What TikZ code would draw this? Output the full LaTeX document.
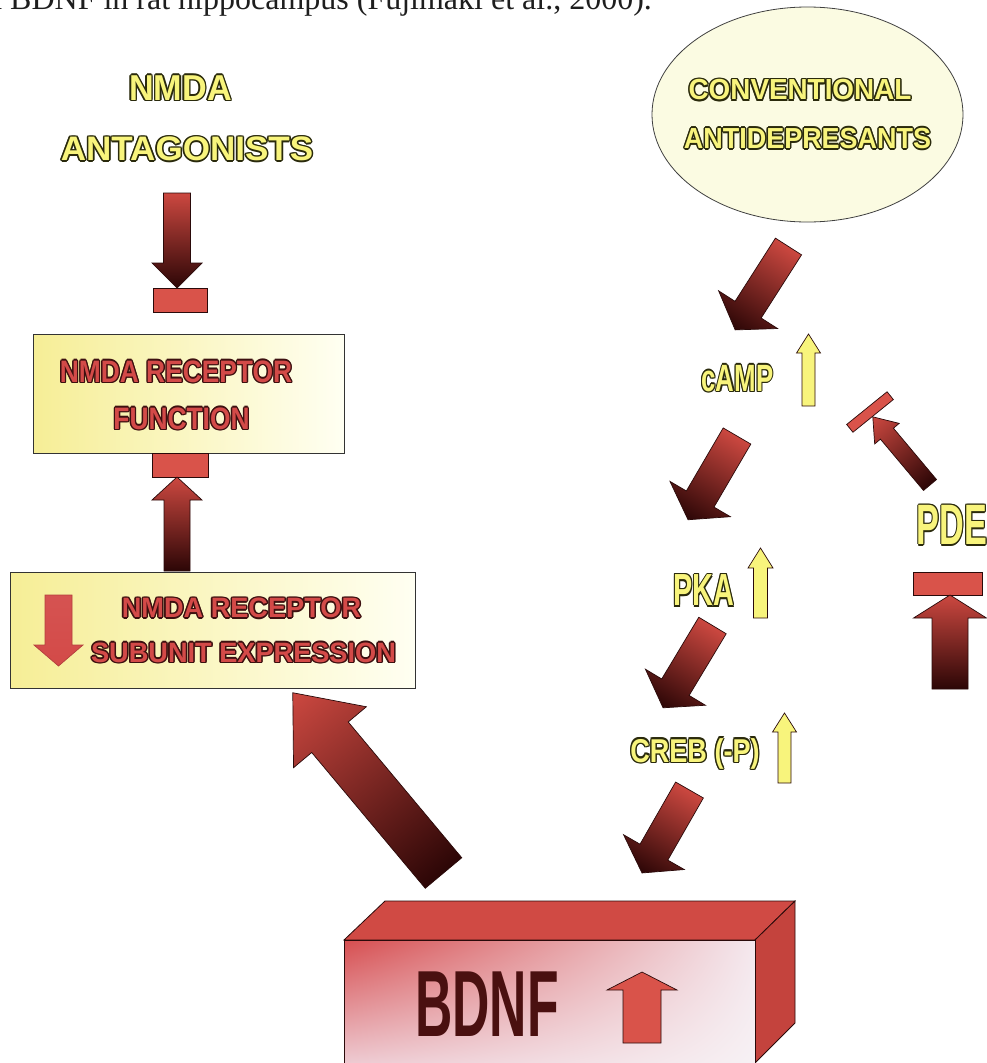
\documentclass[tikz,border=0pt]{standalone}
\usepackage{fontspec}
\usepackage{graphicx}
\setmainfont{Liberation Serif}
\newfontfamily\hb{Liberation Sans}
\usetikzlibrary{shapes.geometric,shadings}

\definecolor{yfill}{HTML}{F8F47C}
\definecolor{yline}{HTML}{2A2A0C}
\definecolor{rfill}{HTML}{D34A48}
\definecolor{rline}{HTML}{3D1010}
\definecolor{ared}{HTML}{CC4840}
\definecolor{adark}{HTML}{2C0606}
\definecolor{aline}{HTML}{2A0A0A}
\definecolor{barred}{HTML}{D9534A}
\definecolor{ellfill}{HTML}{FBFBE2}
\definecolor{boxyel}{HTML}{F6EE96}
\definecolor{boxpale}{HTML}{FFFFF2}
\definecolor{capt}{HTML}{1E1E1E}
\definecolor{bdnftop}{HTML}{D04A44}
\definecolor{bdnfside}{HTML}{C4433D}
\definecolor{bdnftext}{HTML}{4A1010}
\definecolor{fUL}{HTML}{D64E50}
\definecolor{fUR}{HTML}{F4E8EE}
\definecolor{fLL}{HTML}{F0D6DE}
\definecolor{fLR}{HTML}{F7F2F5}

\newlength\olw
\newcommand\olcopy[3]{\rlap{\hspace*{#1}\raisebox{#2}{#3}}}
\newcommand\otext[4]{%
  \setlength\olw{#1}%
  {\color{#2}%
   \olcopy{\olw}{0pt}{#4}\olcopy{-\olw}{0pt}{#4}\olcopy{0pt}{\olw}{#4}\olcopy{0pt}{-\olw}{#4}%
   \olcopy{.707\olw}{.707\olw}{#4}\olcopy{-.707\olw}{.707\olw}{#4}%
   \olcopy{.707\olw}{-.707\olw}{#4}\olcopy{-.707\olw}{-.707\olw}{#4}}%
  {\color{#3}#4}}
\newcommand\ytext[1]{\otext{1.6pt}{yline}{yfill}{#1}}
\newcommand\rtext[1]{\otext{1.6pt}{rline}{rfill}{#1}}

\def\arrowdraw{aline}
% tail x, tail y, canvas angle, length, shaft width, head width, head length, tail colour, tip colour
\newcommand\blockarrow[9]{%
  \begin{scope}[transform canvas={shift={(#1,#2)},rotate=#3}]
    \shade[left color=#8,right color=#9,draw=\arrowdraw,line width=0.7pt,line join=miter]
      (0,-#5/2) -- ({#4-#7},-#5/2) -- ({#4-#7},-#6/2) -- (#4,0)
      -- ({#4-#7},#6/2) -- ({#4-#7},#5/2) -- (0,#5/2) -- cycle;
  \end{scope}}

\tikzset{
  lbl/.style={inner sep=0pt, outer sep=0pt, anchor=center},
  bar/.style={fill=barred, draw=aline, line width=0.7pt},
  ybox/.style={draw=black!80, line width=0.8pt, shade, left color=boxyel, right color=boxpale, inner sep=0pt},
}

\begin{document}
\begin{tikzpicture}[x=1pt,y=-1pt]
\useasboundingbox (0,0) rectangle (987,1063);
\fill[white] (0,0) rectangle (987,1063);

% caption (cut at top)
\node[anchor=base west, inner sep=0pt, text=capt, font=\fontsize{32}{38}\selectfont] (caption) at (-14,9)
  {d BDNF in rat hippocampus (Fujimaki et al., 2000).};

% ---------- left column ----------
\node[lbl, font=\hb\bfseries\fontsize{36}{40}\selectfont] (nmda) at (180.5,88) {\scalebox{0.95}[1]{\ytext{NMDA}}};
\node[lbl, font=\hb\bfseries\fontsize{34}{40}\selectfont] (antag) at (187,149) {\scalebox{1.03}[1]{\ytext{ANTAGONISTS}}};

\blockarrow{177}{193}{270}{95}{27}{50}{25}{ared}{adark}
\draw[bar] (153,288) rectangle (207,312);

\node[ybox, minimum width=311pt, minimum height=119pt] (funcbox) at (188.5,393.5) {};
\node[lbl, font=\hb\bfseries\fontsize{31}{36}\selectfont] (func1) at (176,371.5) {\scalebox{0.85}[1]{\rtext{NMDA RECEPTOR}}};
\node[lbl, font=\hb\bfseries\fontsize{31}{36}\selectfont] (func2) at (181.5,418.5) {\scalebox{0.85}[1]{\rtext{FUNCTION}}};

\draw[bar] (152,453) rectangle (208,477);
\blockarrow{177}{571}{90}{94}{26}{50}{23}{adark}{ared}

\node[ybox, minimum width=405pt, minimum height=116pt] (subbox) at (212.5,630) {};
\node[lbl, font=\hb\bfseries\fontsize{28}{32}\selectfont] (sub1) at (241.5,608) {\scalebox{0.97}[1]{\rtext{NMDA RECEPTOR}}};
\node[lbl, font=\hb\bfseries\fontsize{28}{32}\selectfont] (sub2) at (243.5,652.5) {\scalebox{0.97}[1]{\rtext{SUBUNIT EXPRESSION}}};
{\def\arrowdraw{rfill!85!black}
 \blockarrow{58.5}{595}{270}{71}{27}{49}{21}{rfill!95!white}{rfill}}

% big arrow BDNF -> subunit expression
\blockarrow{443.5}{873}{129.9}{235}{47.6}{95}{58}{adark}{ared}

% ---------- right column ----------
\node[ellipse, draw=black!75, line width=0.8pt, fill=ellfill, minimum width=311pt, minimum height=215pt, inner sep=0pt] (conv) at (807.5,114.5) {};
\node[lbl, font=\hb\bfseries\fontsize{29}{34}\selectfont] (conv1) at (800,90) {\scalebox{0.96}[1]{\ytext{CONVENTIONAL}}};
\node[lbl, font=\hb\bfseries\fontsize{29}{34}\selectfont] (conv2) at (807.5,138.5) {\scalebox{0.93}[1]{\ytext{ANTIDEPRESANTS}}};

\blockarrow{788.5}{246.5}{237.4}{99}{31}{70}{24}{ared}{adark}

\node[lbl, font=\hb\bfseries\fontsize{38}{42}\selectfont] (camp) at (737.5,378.5) {\scalebox{0.68}[1]{\ytext{cAMP}}};
\blockarrow{808.5}{406}{90}{72}{13}{24}{19}{yfill}{yfill}

\blockarrow{737}{436}{239.7}{97}{32}{70}{24}{ared}{adark}

\node[lbl, font=\hb\bfseries\fontsize{45}{50}\selectfont] (pka) at (704,590.5) {\scalebox{0.64}[1]{\ytext{PKA}}};
\blockarrow{760.5}{618}{90}{70}{14}{25}{20}{yfill}{yfill}

\blockarrow{712.5}{625.5}{239}{96}{32}{70}{24}{ared}{adark}

\node[anchor=base, inner sep=0pt, font=\hb\bfseries\fontsize{33}{38}\selectfont] (creb) at (695,762) {\scalebox{0.82}[1]{\ytext{CREB (-P)}}};
\blockarrow{784.5}{783}{90}{70}{13}{24}{19}{yfill}{yfill}

\blockarrow{689.5}{790}{240.2}{95.6}{32}{70}{24}{ared}{adark}

% PDE branch
\node[lbl, font=\hb\bfseries\fontsize{57}{62}\selectfont] (pde) at (952,525) {\scalebox{0.6}[1]{\ytext{PDE}}};
\draw[bar, rotate around={39:(870,412)}] (844,407) rectangle (896,417);
\blockarrow{930}{485}{130}{89}{17}{32}{22}{adark}{ared}
\draw[bar] (913,572) rectangle (982,595);
\blockarrow{950}{689}{90}{94}{36}{73}{23}{adark}{ared}

% ---------- BDNF block ----------
\fill[bdnftop, draw=aline, line width=0.8pt] (344,940) -- (385,901) -- (795,901) -- (755,940) -- cycle;
\fill[bdnfside, draw=aline, line width=0.8pt] (755,940) -- (795,901) -- (795,1023) -- (755,1063) -- cycle;
\shade[upper left=fUL, upper right=fUR, lower left=fLL, lower right=fLR]
  (344,940) rectangle (755,1075);
\draw[aline, line width=0.8pt] (344,1075) -- (344,940) -- (755,940) -- (755,1075);
\node[lbl, text=bdnftext, font=\hb\bfseries\fontsize{94}{100}\selectfont] (bdnf) at (487,1004.5) {\scalebox{0.55}[1]{BDNF}};
\blockarrow{642}{1043}{90}{71}{38}{70}{18}{barred}{barred}
\end{tikzpicture}
\end{document}
